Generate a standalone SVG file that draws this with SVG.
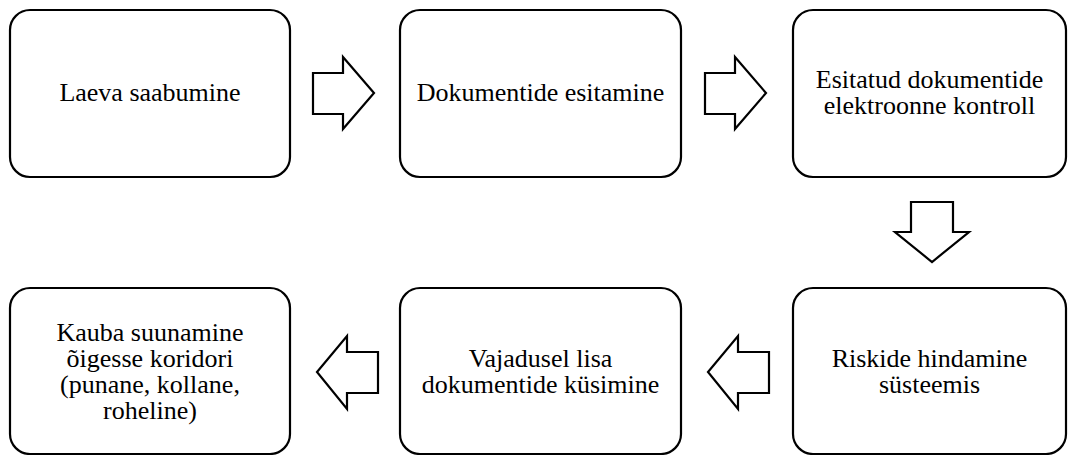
<svg xmlns="http://www.w3.org/2000/svg" width="1068" height="455" viewBox="0 0 1068 455">
  <style>
    .box { fill: #ffffff; stroke: #000000; stroke-width: 2.2; }
    .arrow { fill: #ffffff; stroke: #000000; stroke-width: 2.2; stroke-linejoin: miter; }
    .label { font-family: 'Liberation Serif', 'Times New Roman', serif; font-size: 26px; fill: #000000; text-anchor: middle; }
  </style>
  <rect width="1068" height="455" fill="#ffffff"/>

  <!-- top row -->
  <g id="n1">
    <rect class="box" x="10" y="10" width="280" height="167" rx="20" ry="20"/>
    <text class="label" x="150" y="101">Laeva saabumine</text>
  </g>
  <g id="n2">
    <rect class="box" x="400" y="10" width="281" height="167" rx="20" ry="20"/>
    <text class="label" x="540.5" y="101">Dokumentide esitamine</text>
  </g>
  <g id="n3">
    <rect class="box" x="793" y="10" width="273" height="167" rx="20" ry="20"/>
    <text class="label" x="929.5" y="88">Esitatud dokumentide<tspan x="929.5" dy="26">elektroonne kontroll</tspan></text>
  </g>

  <!-- bottom row -->
  <g id="n4">
    <rect class="box" x="10" y="288" width="280" height="166" rx="20" ry="20"/>
    <text class="label" x="150" y="341">Kauba suunamine<tspan x="150" dy="26">õigesse koridori</tspan><tspan x="150" dy="26">(punane, kollane,</tspan><tspan x="150" dy="26">roheline)</tspan></text>
  </g>
  <g id="n5">
    <rect class="box" x="400" y="288" width="281" height="166" rx="20" ry="20"/>
    <text class="label" x="540.5" y="367">Vajadusel lisa<tspan x="540.5" dy="26">dokumentide küsimine</tspan></text>
  </g>
  <g id="n6">
    <rect class="box" x="793" y="288" width="273" height="166" rx="20" ry="20"/>
    <text class="label" x="929.5" y="367">Riskide hindamine<tspan x="929.5" dy="26">süsteemis</tspan></text>
  </g>

  <!-- block arrows -->
  <g id="connectors">
    <polygon class="arrow" points="313,73 343,73 343,57 374,93 343,129 343,114 313,114"/>
    <polygon class="arrow" points="705,73 735,73 735,57 766,93 735,129 735,114 705,114"/>
    <polygon class="arrow" points="911,202 953,202 953,232 969,232 932,262 895,232 911,232"/>
    <polygon class="arrow" points="769,352 738,352 738,336 708,372 738,409 738,393 769,393"/>
    <polygon class="arrow" points="378,352 347,352 347,336 317,372 347,409 347,393 378,393"/>
  </g>
</svg>
